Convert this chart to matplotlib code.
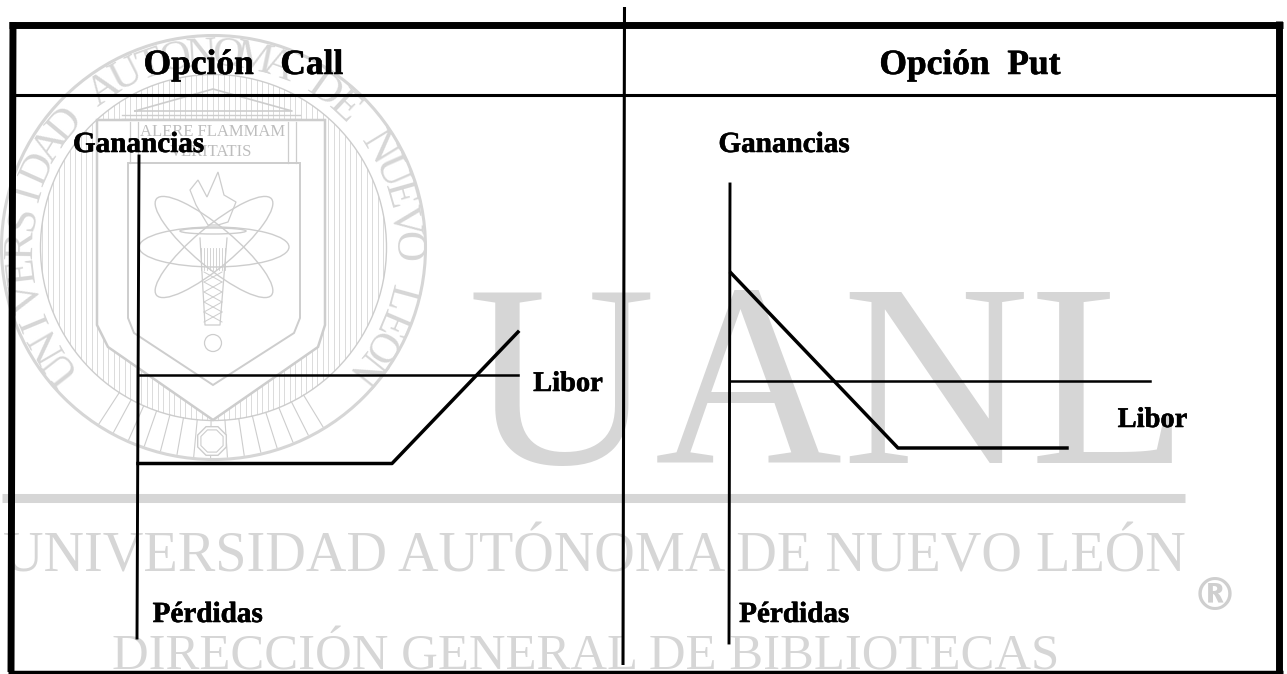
import numpy as np
import matplotlib
matplotlib.use("Agg")
import matplotlib.pyplot as plt
import matplotlib.patheffects as pe
from matplotlib.patches import Circle, Ellipse, Polygon, RegularPolygon

W, H = 1287, 674

# Payoff lines (pixel-scale data units)
call_axis_x = [139, 137]
call_axis_y = [156, 638]
call_libor_x = [139, 518]
call_libor_y = [375, 375]
call_payoff_x = [138, 392, 518]
call_payoff_y = [463.5, 463.5, 332]

put_axis_x = [730, 729]
put_axis_y = [184, 643]
put_libor_x = [730, 1150]
put_libor_y = [381, 381]
put_payoff_x = [731, 898, 1067]
put_payoff_y = [273, 448, 448]

label_text = ["Opción   Call", "Opción  Put", "Ganancias", "Ganancias", "Libor", "Libor", "Pérdidas", "Pérdidas"]
label_x = [243.5, 970, 138.5, 784, 568, 1152.5, 207.5, 794]
label_y = [74, 74, 152, 152, 391, 427, 622, 622]
label_size = [25.5, 25.5, 21, 21, 20.5, 20.5, 21, 21]

ring_text = "UNIVERSIDAD AUTONOMA DE NUEVO LEON"

outer_shield = [(97, 120), (325, 120), (325, 325), (318, 347), (213, 420), (108, 347), (97, 325)]
inner_shield = [(128, 163), (300, 163), (300, 318), (294, 333), (213, 385), (134, 333), (128, 318)]
pediment = [(135, 111), (213, 89), (292, 111)]
flame = [(208, 225), (196, 205), (190, 190), (198, 180), (207, 197), (218, 172), (224, 195),
         (236, 202), (228, 222), (218, 225)]

plt.rcParams["font.family"] = ["Liberation Serif", "DejaVu Serif"]
fig = plt.figure(figsize=(W / 100, H / 100), dpi=100)
ax = fig.add_axes([0, 0, 1, 1])
ax.set_xlim(0, W)
ax.set_ylim(H, 0)
ax.axis("off")

G = "#d6d6d6"
E = "#cdcdcd"
cx, cy = 213.5, 247.5

# Emblem
ax.add_patch(Circle((cx, cy), 212, fill=False, ec=G, lw=2.2, zorder=1))
ax.add_patch(Circle((cx, cy), 173, fill=False, ec=E, lw=1.0, zorder=1))
clip = Circle((cx, cy), 173, transform=ax.transData)
for vx in np.arange(42, 386, 5.5):
    ln, = ax.plot([vx, vx], [70, 425], color=E, lw=0.5, zorder=1)
    ln.set_clip_path(clip)
ax.add_patch(Polygon(outer_shield, closed=True, fc="white", ec=E, lw=1.8, zorder=1.1))
ax.add_patch(Polygon(inner_shield, closed=True, fc="white", ec=E, lw=1.4, zorder=1.2))
ax.plot([p[0] for p in pediment] + [135], [p[1] for p in pediment] + [111], color=E, lw=1.2, zorder=1.3)
ax.plot([122, 300], [115, 115], color=E, lw=1.0, zorder=1.3)
ax.plot([122, 300], [119, 119], color=E, lw=1.0, zorder=1.3)
for col_x in [130, 138, 288, 296]:
    ax.plot([col_x, col_x], [122, 163], color=E, lw=0.9, zorder=1.3)
for a in np.radians(np.arange(237, 304, 4.6)):
    ax.plot([cx + 173 * np.cos(a), cx + 210 * np.cos(a)],
            [cy - 173 * np.sin(a), cy - 210 * np.sin(a)], color=E, lw=0.8, zorder=1)
ax.add_patch(RegularPolygon((212, 441), 8, radius=15.5, orientation=np.pi / 8, fc="white", ec=E, lw=1.0, zorder=1.3))
ax.add_patch(RegularPolygon((212, 441), 8, radius=12, orientation=np.pi / 8, fc="white", ec=E, lw=0.8, zorder=1.4))
for ang in [0, 40, -40]:
    ax.add_patch(Ellipse((214, 247), 150, 40, angle=ang, fill=False, ec=E, lw=1.0, zorder=1.4))
ax.add_patch(Polygon(flame, closed=True, fill=False, ec=E, lw=0.9, zorder=1.4))
ax.add_patch(Ellipse((213, 231), 66, 6, fill=False, ec=E, lw=1.0, zorder=1.4))
for vx in np.arange(201, 227, 3):
    ax.plot([vx, vx], [248, 270], color=E, lw=0.6, zorder=1.4)
ax.plot([200, 205, 220, 227], [238, 325, 325, 238], color=E, lw=0.9, zorder=1.4)
for k in range(5):
    y0 = 272 + 10 * k
    ax.plot([204, 222], [y0, y0 + 10], color=E, lw=0.7, zorder=1.4)
    ax.plot([222, 204], [y0, y0 + 10], color=E, lw=0.7, zorder=1.4)
ax.add_patch(Circle((213, 343), 8.5, fc="white", ec=E, lw=0.9, zorder=1.4))
ax.text(213, 132, "ALERE FLAMMAM", fontsize=12, color="#bdbdbd", ha="center", va="center", zorder=1.5)
ax.text(211, 152, "VERITATIS", fontsize=12, color="#bdbdbd", ha="center", va="center", zorder=1.5)
angles = np.linspace(218, -38.6, len(ring_text))
for ch, a in zip(ring_text, angles):
    if ch == " ":
        continue
    r = np.radians(a)
    ax.text(cx + 192 * np.cos(r), cy - 192 * np.sin(r), ch, fontsize=31, color=G,
            rotation=a - 90, rotation_mode="anchor", ha="center", va="center", zorder=1)

# Watermark
ax.text(828, 463, "UANL", fontsize=187, color=G, ha="center", va="baseline", zorder=2)
ax.plot([2, 1185], [497.5, 497.5], color=G, lw=6.5, solid_capstyle="butt", zorder=2)
ax.text(594, 571, "UNIVERSIDAD AUTÓNOMA DE NUEVO LEÓN", fontsize=40.5, color=G,
        ha="center", va="baseline", zorder=2)
ax.text(586, 670, "DIRECCIÓN GENERAL DE BIBLIOTECAS", fontsize=36.5, color=G,
        ha="center", va="baseline", zorder=2)
ax.text(1215, 597, "®", fontsize=33, color="#cfcfcf", family="DejaVu Sans", fontweight="bold",
        ha="center", va="center", zorder=2)

# Frame and table rules
k = "black"
ax.plot([13, 11], [22, 672], color=k, lw=5, solid_capstyle="butt", zorder=3)
ax.plot([1279, 1279], [21, 673], color=k, lw=5, solid_capstyle="butt", zorder=3)
ax.plot([9, 1283], [25, 25], color=k, lw=5, solid_capstyle="butt", zorder=3)
ax.plot([8, 1283], [671.5, 671.5], color=k, lw=2.5, solid_capstyle="butt", zorder=3)
ax.plot([13, 1279], [94.5, 94.5], color=k, lw=2.2, solid_capstyle="butt", zorder=3)
ax.plot([624.5, 623], [7, 665], color=k, lw=2.2, solid_capstyle="butt", zorder=3)

# Axes and payoff lines
for xs, ys in [(call_axis_x, call_axis_y), (put_axis_x, put_axis_y)]:
    ax.plot(xs, ys, color=k, lw=2.1, zorder=4)
for xs, ys in [(call_libor_x, call_libor_y), (put_libor_x, put_libor_y)]:
    ax.plot(xs, ys, color=k, lw=1.8, zorder=4)
for xs, ys in [(call_payoff_x, call_payoff_y), (put_payoff_x, put_payoff_y)]:
    ax.plot(xs, ys, color=k, lw=2.5, zorder=4)

for s, x, y, fs in zip(label_text, label_x, label_y, label_size):
    t = ax.text(x, y, s, fontsize=fs, fontweight="bold", color=k, ha="center", va="baseline", zorder=5)
    t.set_path_effects([pe.withStroke(linewidth=0.4, foreground=k)])

fig.savefig("out.png", dpi=100, facecolor="white")
